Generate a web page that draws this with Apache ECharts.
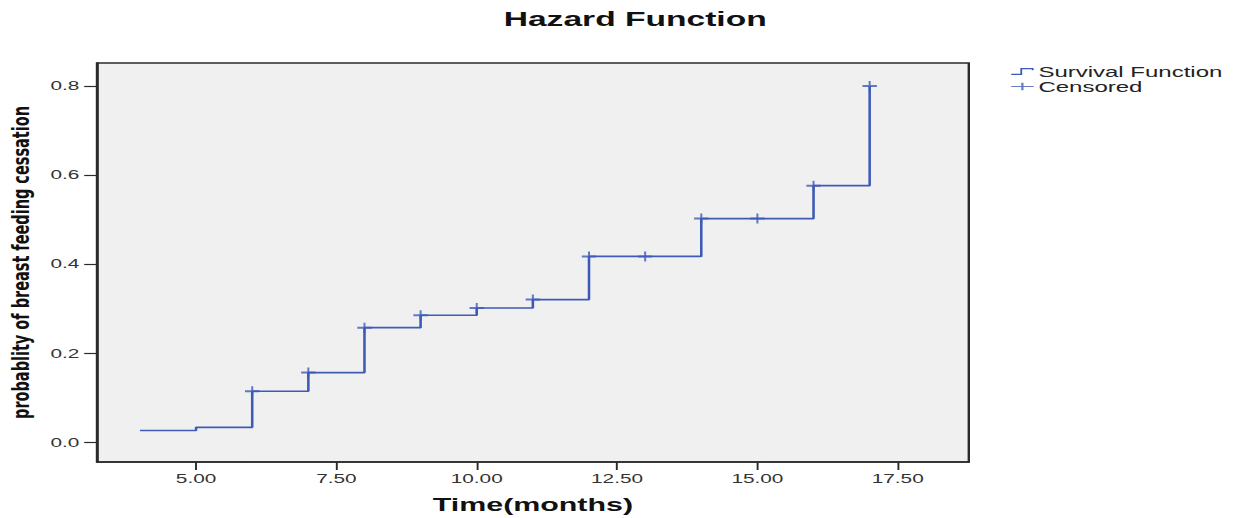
<!DOCTYPE html>
<html><head><meta charset="utf-8">
<script src="https://cdn.jsdelivr.net/npm/echarts@6/dist/echarts.min.js"></script>
<style>
html,body{margin:0;padding:0;background:#fff;overflow:hidden}
#wrap{width:1244px;height:518px;overflow:hidden;position:relative}
#c{width:777.5px;height:518px;transform:scaleX(1.6);transform-origin:0 0}
</style>
</head><body><div id="wrap"><div id="c"></div></div>
<script>
// Step points of the cumulative hazard (value after each time)
const times = [4, 5, 6, 7, 8, 9, 10, 11, 12, 14, 16, 17];
const hazard = [0.026, 0.033, 0.114, 0.156, 0.257, 0.285, 0.301, 0.320, 0.417, 0.502, 0.576, 0.800];
// Censored marks
const censorTimes = [6, 7, 8, 9, 10, 11, 12, 13, 14, 15, 16, 17];
const censorValues = [0.114, 0.156, 0.257, 0.285, 0.301, 0.320, 0.417, 0.417, 0.502, 0.502, 0.576, 0.800];
// Tick values
const xTicks = [5, 7.5, 10, 12.5, 15, 17.5];
const yTicks = [0, 0.2, 0.4, 0.6, 0.8];

const S = 1.6; // horizontal stretch of the whole picture
const col = '#3d5ab6';
const lineData = times.map((t, i) => [t, hazard[i]]);
const censData = censorTimes.map((t, i) => [t, censorValues[i]]);

const stepIcon = 'path://M0,9.4 L9,9.4 L9,0.6 L22,0.6 L22,4 L20.2,4 L20.2,2.4 L10.8,2.4 L10.8,11.4 L0,11.4 Z';
const plusIcon = 'path://M0,5.2 L9.9,5.2 L9.9,0 L12.1,0 L12.1,5.2 L22,5.2 L22,6.8 L12.1,6.8 L12.1,12 L9.9,12 L9.9,6.8 L0,6.8 Z';
const plusSym = 'path://M0,4 L10,4 L10,6 L0,6 Z M4.3,0 L5.7,0 L5.7,10 L4.3,10 Z';

const chart = echarts.init(document.getElementById('c'), null, {renderer: 'svg'});
chart.setOption({
  animation: false,
  backgroundColor: '#ffffff',
  title: {
    text: 'Hazard Function',
    left: 392, top: 3, textAlign: 'center',
    textStyle: {fontFamily: 'Liberation Sans', fontWeight: 'bold', fontSize: 21, color: '#111'}
  },
  legend: {
    orient: 'vertical', left: 627, top: 59,
    itemWidth: 14, itemHeight: 8, itemGap: 0,
    textStyle: {fontFamily: 'Liberation Sans', fontSize: 15, color: '#222', padding: [0,0,0,-2]},
    data: [{name: 'Survival Function', icon: stepIcon}, {name: 'Censored', icon: plusIcon}]
  },
  grid: {
    left: 97 / S, right: 777.5 - 968 / S, top: 63, bottom: 56,
    outerBoundsMode: 'none', containLabel: false,
    show: true, backgroundColor: '#f0f0f0', borderColor: '#2a2a2a', borderWidth: 1.5
  },
  xAxis: {
    type: 'value', min: 3.235, max: 18.766,
    name: 'Time(months)', nameLocation: 'middle', nameGap: 33,
    nameTextStyle: {fontFamily: 'Liberation Sans', fontWeight: 'bold', fontSize: 19, color: '#111'},
    axisLine: {show: true, onZero: false, lineStyle: {color: '#2a2a2a', width: 1.5}},
    axisTick: {show: true, length: 8, customValues: xTicks, lineStyle: {color: '#2a2a2a', width: 1.2}},
    axisLabel: {customValues: xTicks, margin: 10, fontFamily: 'Liberation Sans', fontSize: 13, color: '#333',
      formatter: v => v.toFixed(2)},
    splitLine: {show: false}
  },
  yAxis: {
    type: 'value', min: -0.0448, max: 0.8515,
    name: 'probablity of breast feeding cessation', nameLocation: 'middle', nameGap: 36,
    nameTextStyle: {fontFamily: 'DejaVu Sans', fontWeight: 'bold', fontSize: 14.5, color: '#111'},
    axisLine: {show: true, onZero: false, lineStyle: {color: '#2a2a2a', width: 1.5}},
    axisTick: {show: true, length: 8, customValues: yTicks, lineStyle: {color: '#2a2a2a', width: 1.2}},
    axisLabel: {customValues: yTicks, margin: 11, fontFamily: 'Liberation Sans', fontSize: 13, color: '#333',
      formatter: v => v.toFixed(1)},
    splitLine: {show: false}
  },
  series: [
    {
      name: 'Survival Function', type: 'line', step: 'end', data: lineData,
      showSymbol: false, symbol: 'none', color: col,
      lineStyle: {color: col, width: 1.6}
    },
    {
      name: 'Censored', type: 'scatter', data: censData,
      symbol: plusSym, symbolSize: [9, 10], symbolKeepAspect: false,
      color: col, itemStyle: {color: col}
    }
  ]
});
</script>
</body></html>
